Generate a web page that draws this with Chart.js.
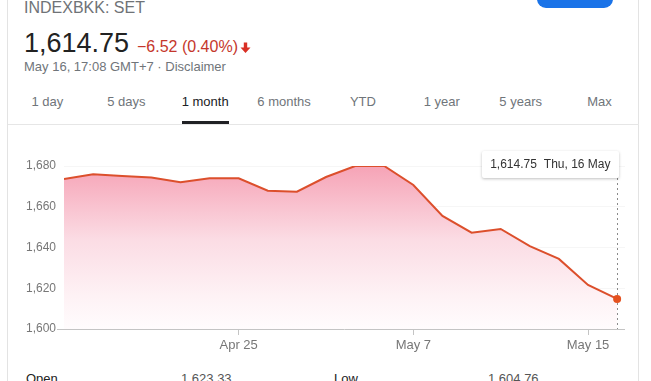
<!DOCTYPE html>
<html lang="en">
<head>
<meta charset="UTF-8">
<script src="https://cdn.jsdelivr.net/npm/chart.js@4.4.0/dist/chart.umd.min.js"></script>
<title>INDEXBKK: SET</title>
<style>
  html, body { margin: 0; padding: 0; }
  body {
    width: 651px; height: 381px; overflow: hidden; position: relative;
    background: #fff; font-family: "Liberation Sans", Arial, sans-serif;
  }
  .abs { position: absolute; white-space: nowrap; line-height: 1; }
  .vline { position: absolute; top: 0; bottom: 0; width: 1px; background: #e3e3e3; }
  #follow { position: absolute; left: 537px; top: -20px; width: 76px; height: 28px; border-radius: 9px; background: #1a73e8; }
  #title { left: 24px; top: 0px; font-size: 16px; color: #6f7377; }
  #price { left: 24px; top: 30px; font-size: 27px; color: #222; }
  #change { left: 137px; top: 39px; font-size: 16px; color: #c5372c; }
  #change svg { vertical-align: -1px; margin-left: 2px; }
  #stamp { left: 24px; top: 60px; font-size: 13px; color: #70757a; }
  #tabs { position: absolute; left: 8px; top: 90px; width: 631px; height: 34px; display: flex; border-bottom: 1px solid #e6e6e6; }
  #tabs div { flex: 1; text-align: center; font-size: 13px; color: #70757a; padding-top: 5px; line-height: 1; }
  #tabs div.on { color: #202124; }
  #tabs div.on span { display: inline-block; height: 29px; border-bottom: 3px solid #202124; box-sizing: border-box; }
  #chartBox { position: absolute; left: 0; top: 130px; width: 651px; height: 230px; }
  #tip {
    position: absolute; left: 482px; top: 21px; background: #fff; font-size: 12px; color: #333;
    padding: 7px 8px 8px 8px; line-height: 12px; white-space: nowrap;
    box-shadow: 0 1px 3px rgba(0,0,0,0.25); border-radius: 2px;
  }
  #tip span + span { margin-left: 7px; }
  .stat { font-size: 13px; top: 372px; }
</style>
</head>
<body>
  <div class="vline" style="left:7px"></div>
  <div class="vline" style="left:638px"></div>
  <div id="follow"></div>

  <div class="abs" id="title">INDEXBKK: SET</div>
  <div class="abs" id="price">1,614.75</div>
  <div class="abs" id="change">−6.52 (0.40%)<svg width="11" height="11" viewBox="0 0 11 11"><path d="M5.5 11 L0.5 5.5 L3.8 5.5 L3.8 0.5 L7.2 0.5 L7.2 5.5 L10.5 5.5 Z" fill="#d93025"/></svg></div>
  <div class="abs" id="stamp">May 16, 17:08 GMT+7 · Disclaimer</div>

  <div id="tabs">
    <div>1 day</div>
    <div>5 days</div>
    <div class="on"><span>1 month</span></div>
    <div>6 months</div>
    <div>YTD</div>
    <div>1 year</div>
    <div>5 years</div>
    <div>Max</div>
  </div>

  <div id="chartBox">
    <canvas id="myChart"></canvas>
    <div id="tip"><span>1,614.75</span><span>Thu, 16 May</span></div>
  </div>

  <div class="abs stat" style="left:26px;color:#222">Open</div>
  <div class="abs stat" style="left:181px;color:#555">1,623.33</div>
  <div class="abs stat" style="left:334px;color:#222">Low</div>
  <div class="abs stat" style="left:488px;color:#555">1,604.76</div>

<script>
  // trading days of the last month and the closing level of the index
  const dates = ['Apr 17', 'Apr 18', 'Apr 19', 'Apr 22', 'Apr 23', 'Apr 24', 'Apr 25', 'Apr 26', 'Apr 29', 'Apr 30',
                 'May 2', 'May 3', 'May 7', 'May 8', 'May 9', 'May 10', 'May 13', 'May 14', 'May 15', 'May 16'];
  const closes = [1673.6, 1675.9, 1675.1, 1674.3, 1672.0, 1674.0, 1674.0, 1667.9, 1667.4, 1674.6,
                  1680.0, 1680.0, 1670.7, 1655.5, 1647.3, 1649.1, 1640.7, 1634.4, 1621.6, 1614.75];
  const tickDates = ['Apr 25', 'May 7', 'May 15'];
  const yMin = 1600, yMax = 1680, yStep = 20;

  const points = closes.map(function (v, i) { return { x: i, y: v }; });
  const last = closes.length - 1;

  /* linea tratteggiata sotto l'ultimo punto + posizione del riquadro */
  const hoverLine = {
    id: 'hoverLine',
    beforeDatasetsDraw(chart) {
      const p = chart.getDatasetMeta(0).data[last];
      const c = chart.ctx;
      c.save();
      c.strokeStyle = '#8a8a8a';
      c.lineWidth = 1;
      c.setLineDash([2, 3]);
      c.beginPath();
      c.moveTo(Math.round(p.x) + 0.5, chart.chartArea.top + 12);
      c.lineTo(Math.round(p.x) + 0.5, chart.chartArea.bottom);
      c.stroke();
      c.restore();
    },
    afterDraw(chart) {
      const p = chart.getDatasetMeta(0).data[last];
      const tip = document.getElementById('tip');
      tip.style.left = (p.x + 1 - tip.offsetWidth) + 'px';
      tip.style.top = (chart.chartArea.top + 12 - tip.offsetHeight) + 'px';
    }
  };

  const ctx = document.getElementById('myChart').getContext('2d');
  const myChart = new Chart(ctx, {
    type: 'line',
    data: {
      datasets: [{
        data: points,
        borderColor: '#dc4f2c',
        borderWidth: 2,
        tension: 0,
        fill: 'start',
        backgroundColor: function (c) {
          const a = c.chart.chartArea;
          if (!a) return 'rgba(245,160,180,0.5)';
          const g = c.chart.ctx.createLinearGradient(0, a.top, 0, a.bottom);
          g.addColorStop(0, 'rgb(246,163,182)');
          g.addColorStop(0.45, 'rgb(251,220,228)');
          g.addColorStop(0.8, 'rgb(254,242,245)');
          g.addColorStop(1, 'rgb(255,252,253)');
          return g;
        },
        pointRadius: function (c) { return c.dataIndex === last ? 4 : 0; },
        pointBackgroundColor: '#e4511f',
        pointBorderWidth: 0
      }]
    },
    options: {
      responsive: true,
      maintainAspectRatio: false,
      animation: false,
      layout: { padding: { top: 36, right: 26, left: 0, bottom: 0 } },
      plugins: { legend: { display: false }, tooltip: { enabled: false } },
      scales: {
        x: {
          type: 'linear',
          min: 0,
          max: last + 0.27,
          afterBuildTicks: function (scale) {
            scale.ticks = tickDates.map(function (d) { return { value: dates.indexOf(d) }; });
          },
          afterFit: function (scale) { scale.height = 31; },
          border: { display: false },
          grid: { drawOnChartArea: false, drawTicks: true, tickLength: 6, tickColor: '#c4c4c4' },
          ticks: {
            autoSkip: false,
            maxRotation: 0,
            padding: 3,
            color: '#777',
            font: { family: 'Liberation Sans', size: 13 },
            callback: function (v) { return dates[v]; }
          }
        },
        y: {
          min: yMin,
          max: yMax,
          afterFit: function (scale) { scale.width = 64; },
          border: { display: false },
          grid: {
            tickLength: 7,
            color: function (c) { return c.tick && c.tick.value === yMin ? '#c4c4c4' : '#f6f6f6'; },
            tickColor: function (c) { return c.tick && c.tick.value === yMin ? '#c4c4c4' : 'rgba(0,0,0,0)'; }
          },
          ticks: {
            stepSize: yStep,
            padding: 1,
            color: '#777',
            font: { family: 'Liberation Sans', size: 12 },
            callback: function (v) { return v.toLocaleString('en-US'); }
          }
        }
      }
    },
    plugins: [hoverLine]
  });
</script>
</body>
</html>
